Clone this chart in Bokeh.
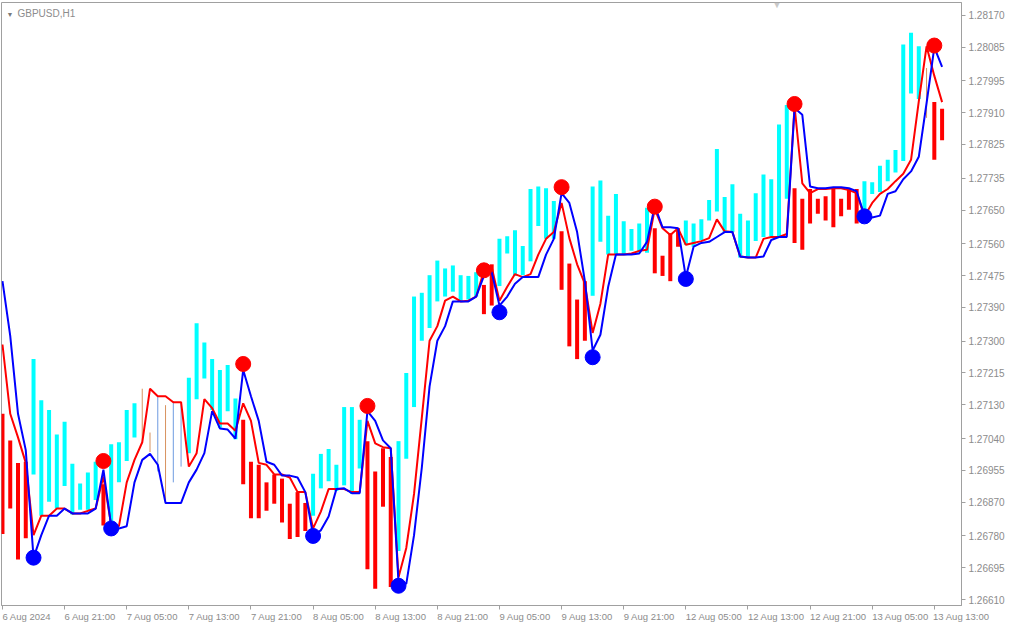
from bokeh.plotting import figure
from bokeh.models import (Range1d, FixedTicker, NumeralTickFormatter, Label,
                          ColumnDataSource)
from bokeh.embed import file_html
from bokeh.resources import INLINE

# ---------------- data (GBPUSD, H1) ----------------
x_labels = ["6 Aug 2024", "6 Aug 21:00", "7 Aug 05:00", "7 Aug 13:00", "7 Aug 21:00",
            "8 Aug 05:00", "8 Aug 13:00", "8 Aug 21:00", "9 Aug 05:00", "9 Aug 13:00",
            "9 Aug 21:00", "12 Aug 05:00", "12 Aug 13:00", "12 Aug 21:00", "13 Aug 05:00",
            "13 Aug 13:00"]
x_label_pos = [0, 8, 16, 24, 32, 40, 48, 56, 64, 72, 80, 88, 96, 104, 112, 120]

y_ticks = [1.26610, 1.26695, 1.26780, 1.26870, 1.26955, 1.27040, 1.27130, 1.27215,
           1.27300, 1.27390, 1.27475, 1.27560, 1.27650, 1.27735, 1.27825, 1.27910,
           1.27995, 1.28085, 1.28170]

highs = [1.27106, 1.27035, 1.26975, 1.26978, 1.27252, 1.27142, 1.27116, 1.27051, 1.27085, 1.26973,
         1.26920, 1.26949, 1.26978, 1.26918, 1.27025, 1.27030, 1.27116, 1.27134, 1.27173, 1.27056,
         1.27153, 1.27129, 1.27140, 1.27134, 1.27202, 1.27348, 1.27296, 1.27252, 1.27223, 1.27236,
         1.27147, 1.27090, 1.26978, 1.26970, 1.26923, 1.26944, 1.26933, 1.26866, 1.26897, 1.26868,
         1.26946, 1.26999, 1.27012, 1.26970, 1.27124, 1.27124, 1.27090, 1.27033, 1.26952, 1.27014,
         1.26991, 1.27033, 1.27215, 1.27419, 1.27429, 1.27476, 1.27515, 1.27494, 1.27502, 1.27476,
         1.27474, 1.27484, 1.27450, 1.27505, 1.27573, 1.27580, 1.27596, 1.27554, 1.27706, 1.27713,
         1.27708, 1.27674, 1.27593, 1.27507, 1.27411, 1.27460, 1.27713, 1.27729, 1.27635, 1.27693,
         1.27620, 1.27599, 1.27614, 1.27656, 1.27601, 1.27528, 1.27588, 1.27601, 1.27622, 1.27614,
         1.27625, 1.27677, 1.27813, 1.27685, 1.27719, 1.27640, 1.27622, 1.27695, 1.27745, 1.27732,
         1.27878, 1.27930, 1.27708, 1.27680, 1.27706, 1.27680, 1.27687, 1.27708, 1.27680, 1.27706,
         1.27706, 1.27727, 1.27724, 1.27768, 1.27784, 1.27810, 1.28092, 1.28123, 1.28087, 1.28029,
         1.27938, 1.27920]

lows = [1.26785, 1.26853, 1.26717, 1.26774, 1.26944, 1.26834, 1.26871, 1.26853, 1.26913, 1.26837,
        1.26850, 1.26850, 1.26876, 1.26808, 1.26808, 1.26923, 1.26980, 1.27043, 1.27030, 1.27004,
        1.26952, 1.26871, 1.26923, 1.26965, 1.27001, 1.27145, 1.27200, 1.27116, 1.27069, 1.27113,
        1.27038, 1.26918, 1.26827, 1.26827, 1.26847, 1.26866, 1.26816, 1.26772, 1.26777, 1.26793,
        1.26834, 1.26907, 1.26926, 1.26900, 1.26915, 1.26892, 1.26960, 1.26691, 1.26639, 1.26858,
        1.26644, 1.26740, 1.26986, 1.27124, 1.27301, 1.27335, 1.27406, 1.27419, 1.27432, 1.27406,
        1.27411, 1.27419, 1.27372, 1.27395, 1.27447, 1.27534, 1.27474, 1.27476, 1.27513, 1.27607,
        1.27573, 1.27573, 1.27437, 1.27286, 1.27252, 1.27301, 1.27421, 1.27565, 1.27531, 1.27531,
        1.27531, 1.27541, 1.27536, 1.27536, 1.27481, 1.27474, 1.27460, 1.27552, 1.27557, 1.27552,
        1.27570, 1.27622, 1.27646, 1.27591, 1.27591, 1.27523, 1.27523, 1.27567, 1.27578, 1.27580,
        1.27578, 1.27680, 1.27562, 1.27544, 1.27614, 1.27640, 1.27622, 1.27604, 1.27633, 1.27651,
        1.27614, 1.27640, 1.27693, 1.27698, 1.27727, 1.27750, 1.27781, 1.27961, 1.27946, 1.27896,
        1.27784, 1.27836]

# R = bearish histogram, C = bullish histogram, O / B = plain bear / bull bar
bar_kind = ["R", "R", "R", "R", "C", "C", "C", "C", "C", "C",
            "C", "C", "C", "R", "C", "C", "C", "C", "O", "O",
            "B", "O", "B", "B", "C", "C", "C", "C", "C", "C",
            "C", "R", "R", "R", "R", "R", "R", "R", "R", "R",
            "C", "C", "C", "C", "C", "C", "C", "R", "R", "R",
            "R", "C", "C", "C", "C", "C", "C", "C", "C", "C",
            "C", "C", "R", "R", "C", "C", "C", "C", "C", "C",
            "C", "C", "R", "R", "R", "R", "C", "C", "C", "C",
            "C", "C", "C", "C", "R", "R", "R", "R", "C", "C",
            "C", "C", "C", "C", "C", "C", "C", "C", "C", "C",
            "C", "C", "R", "R", "R", "R", "R", "R", "R", "R",
            "R", "C", "C", "C", "C", "C", "C", "C", "C", "O",
            "R", "R"]

red_line = [1.27291, 1.27106, 1.27043, 1.26975, 1.26782, 1.26834, 1.26834, 1.26853, 1.26853, 1.26840,
            1.26840, 1.26847, 1.26853, 1.26939, 1.26808, 1.26806, 1.26923, 1.26983, 1.27030, 1.27173,
            1.27153, 1.27153, 1.27137, 1.27137, 1.26965, 1.27001, 1.27145, 1.27121, 1.27080, 1.27080,
            1.27061, 1.27134, 1.27087, 1.26975, 1.26970, 1.26944, 1.26944, 1.26936, 1.26897, 1.26897,
            1.26800, 1.26845, 1.26905, 1.26905, 1.26905, 1.26897, 1.26897, 1.27087, 1.27027, 1.27017,
            1.27014, 1.26670, 1.26748, 1.26892, 1.27095, 1.27301, 1.27340, 1.27408, 1.27419, 1.27406,
            1.27408, 1.27419, 1.27487, 1.27497, 1.27408, 1.27445, 1.27479, 1.27471, 1.27479, 1.27531,
            1.27573, 1.27591, 1.27669, 1.27575, 1.27505, 1.27453, 1.27322, 1.27400, 1.27531, 1.27531,
            1.27531, 1.27534, 1.27541, 1.27544, 1.27653, 1.27601, 1.27583, 1.27601, 1.27557, 1.27562,
            1.27567, 1.27575, 1.27625, 1.27593, 1.27591, 1.27526, 1.27523, 1.27523, 1.27573, 1.27578,
            1.27578, 1.27586, 1.27927, 1.27721, 1.27695, 1.27706, 1.27706, 1.27708, 1.27708, 1.27703,
            1.27695, 1.27633, 1.27669, 1.27693, 1.27706, 1.27727, 1.27747, 1.27784, 1.27940, 1.28087,
            1.28008, 1.27938]

blue_line = [1.27460, 1.27314, 1.27106, 1.27009, 1.26722, 1.26782, 1.26834, 1.26834, 1.26853, 1.26840,
             1.26840, 1.26840, 1.26853, 1.26957, 1.26806, 1.26800, 1.26806, 1.26923, 1.26983, 1.26999,
             1.26970, 1.26868, 1.26868, 1.26868, 1.26923, 1.26957, 1.27001, 1.27113, 1.27067, 1.27064,
             1.27040, 1.27223, 1.27153, 1.27087, 1.26978, 1.26970, 1.26941, 1.26941, 1.26936, 1.26897,
             1.26782, 1.26795, 1.26832, 1.26905, 1.26907, 1.26894, 1.26894, 1.27113, 1.27087, 1.27035,
             1.27014, 1.26657, 1.26652, 1.26782, 1.26962, 1.27179, 1.27301, 1.27340, 1.27406, 1.27406,
             1.27406, 1.27419, 1.27474, 1.27484, 1.27395, 1.27419, 1.27453, 1.27471, 1.27471, 1.27471,
             1.27531, 1.27573, 1.27695, 1.27669, 1.27591, 1.27460, 1.27275, 1.27317, 1.27445, 1.27531,
             1.27531, 1.27531, 1.27534, 1.27565, 1.27661, 1.27604, 1.27604, 1.27601, 1.27471, 1.27552,
             1.27562, 1.27565, 1.27578, 1.27591, 1.27591, 1.27526, 1.27523, 1.27523, 1.27526, 1.27570,
             1.27578, 1.27578, 1.27922, 1.27904, 1.27713, 1.27708, 1.27708, 1.27711, 1.27711, 1.27708,
             1.27700, 1.27635, 1.27630, 1.27635, 1.27693, 1.27700, 1.27732, 1.27753, 1.27792, 1.27935,
             1.28084, 1.28032]

peak_idx = [13, 31, 47, 62, 72, 84, 102, 120]
peak_val = [1.26980, 1.27239, 1.27127, 1.27489, 1.27711, 1.27659, 1.27933, 1.28089]
trough_idx = [4, 14, 40, 51, 64, 76, 88, 111]
trough_val = [1.26722, 1.26800, 1.26780, 1.26647, 1.27377, 1.27257, 1.27466, 1.27633]

# ---------------- styling ----------------
kind_color = {"R": "#ff0000", "C": "#00ffff", "O": "#d8925e", "B": "#6f9be0"}
kind_width = {"R": 4, "C": 4, "O": 1, "B": 1}
axis_grey = "#a0a0a0"
text_grey = "#8c8c8c"
font = "Liberation Sans"
x_font_px = 9.5
x_lo, x_hi = -0.125, 123.5
y_lo, y_hi = 1.265943, 1.282039
frame_w, frame_h = 960, 603

idx = list(range(len(highs)))

p = figure(frame_width=frame_w, frame_height=frame_h, output_backend="svg",
           toolbar_location=None, x_range=Range1d(x_lo, x_hi), y_range=Range1d(y_lo, y_hi),
           y_axis_location="right", min_border_left=1, min_border_top=2,
           min_border_right=0, min_border_bottom=0)
p.grid.visible = False
p.outline_line_color = axis_grey
p.background_fill_color = "white"

src = ColumnDataSource(dict(
    x=idx, hi=highs, lo=lows,
    color=[kind_color[k] for k in bar_kind],
    w=[kind_width[k] for k in bar_kind]))
p.segment(x0="x", y0="lo", x1="x", y1="hi", source=src, line_color="color",
          line_width="w", line_cap="butt")

p.line(idx, red_line, line_color="#ff0000", line_width=2)
p.line(idx, blue_line, line_color="#0000ff", line_width=2)

p.scatter(peak_idx, peak_val, size=15, fill_color="#ff0000", line_color="#ff0000")
p.scatter(trough_idx, trough_val, size=15, fill_color="#0000ff", line_color="#0000ff")

# ---- time axis: tick marks at the bars, texts starting at their tick (terminal style) ----
# advance widths of Liberation Sans (per 1000 em) used to place each text's centre
adv = {" ": 278, ":": 278, "A": 667, "u": 556, "g": 556}
px_per_bar = frame_w / (x_hi - x_lo)
centres = []
for pos, lab in zip(x_label_pos, x_labels):
    wpx = sum(adv.get(ch, 556) for ch in lab) * x_font_px / 1000.0
    c = pos + wpx / 2.0 / px_per_bar
    centres.append(min(c, x_hi - 0.02))

xa = p.xaxis[0]
xa.ticker = FixedTicker(ticks=centres, minor_ticks=x_label_pos)
xa.major_label_overrides = {c: lab for c, lab in zip(centres, x_labels)}
xa.major_tick_line_color = None
xa.major_tick_in = 0
xa.major_tick_out = 4
xa.major_label_standoff = 1
xa.major_label_text_font_size = f"{x_font_px}px"
xa.minor_tick_in = 0
xa.minor_tick_out = 4
xa.minor_tick_line_color = axis_grey

ya = p.yaxis[0]
ya.ticker = FixedTicker(ticks=y_ticks)
ya.formatter = NumeralTickFormatter(format="0.00000")
ya.major_tick_line_color = axis_grey
ya.major_tick_in = 0
ya.major_tick_out = 4
ya.major_label_standoff = 3
ya.major_label_text_font_size = "10px"
ya.minor_tick_line_color = None

for ax in (xa, ya):
    ax.axis_line_color = axis_grey
    ax.major_label_text_font = font
    ax.major_label_text_color = text_grey

p.add_layout(Label(x=5, y=y_hi, x_units="screen", y_offset=-12, text="\u25bc",
                   text_font_size="7px", text_color="#7a7a7a", text_baseline="middle"))
p.add_layout(Label(x=16, y=y_hi, x_units="screen", y_offset=-11, text="GBPUSD,H1",
                   text_font=font, text_font_size="10px", text_color=text_grey,
                   text_baseline="middle"))
p.add_layout(Label(x=771, y=y_hi, x_units="screen", y_offset=-2, text="\u25bc",
                   text_font_size="9px", text_color="#c8c8c8", text_baseline="middle"))

open("out.html", "w").write(file_html(p, INLINE))
